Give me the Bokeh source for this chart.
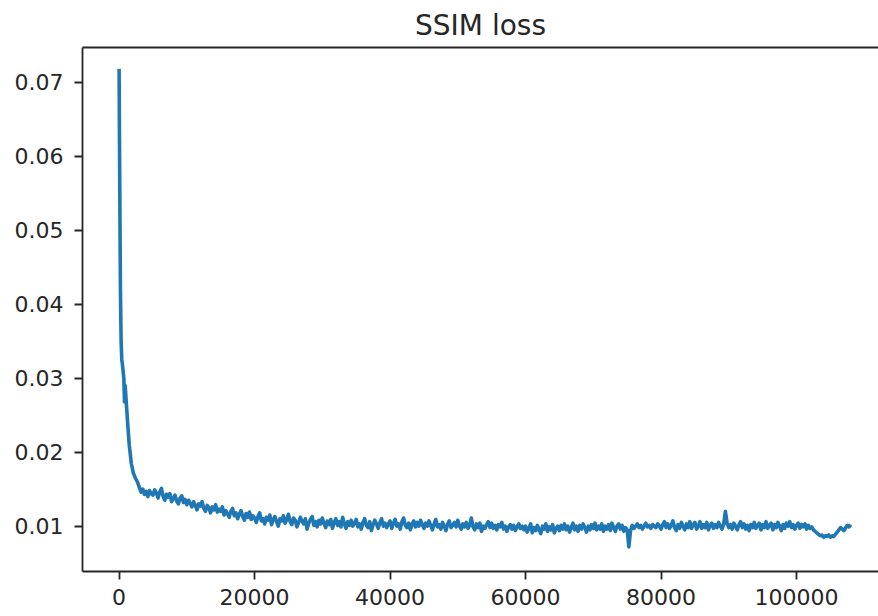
from bokeh.plotting import figure
from bokeh.models import Range1d, LinearAxis, FixedTicker, NumeralTickFormatter
from bokeh.embed import file_html
from bokeh.resources import INLINE

# Training steps and SSIM loss: sparse readings during the initial drop,
# then one reading every 250 steps
early_steps = [0, 100, 200, 300, 400, 500, 700, 800, 900, 1100, 1300, 1500,
               1800, 2100, 2400, 2700, 3000, 3250, 3500, 3750, 4000, 4250, 4500, 4750]
early_loss = [0.0718, 0.0560, 0.0420, 0.0350, 0.0325, 0.0318, 0.0300, 0.0268,
              0.0290, 0.0262, 0.0235, 0.0210, 0.0185, 0.0172, 0.0165, 0.0160,
              0.0152, 0.0146, 0.0150, 0.0143, 0.0147, 0.0140, 0.0148, 0.0144]

late_steps = list(range(5000, 108001, 250))
late_loss = [
    # 5000 - 9750
    0.0142, 0.0149, 0.0145, 0.0138, 0.0146, 0.0151, 0.0140, 0.0135, 0.0143, 0.0139,
    0.0144, 0.0133, 0.0137, 0.0142, 0.0134, 0.0130, 0.0138, 0.0141, 0.0132, 0.0136,
    # 10000 - 14750
    0.0129, 0.0135, 0.0131, 0.0126, 0.0133, 0.0128, 0.0122, 0.0130, 0.0127, 0.0133,
    0.0124, 0.0120, 0.0128, 0.0125, 0.0118, 0.0126, 0.0122, 0.0129, 0.0119, 0.0123,
    # 15000 - 19750
    0.0120, 0.0126, 0.0115, 0.0121, 0.0117, 0.0112, 0.0120, 0.0124, 0.0114, 0.0118,
    0.0110, 0.0116, 0.0121, 0.0113, 0.0108, 0.0117, 0.0112, 0.0119, 0.0109, 0.0114,
    # 20000 - 24750
    0.0111, 0.0105, 0.0113, 0.0118, 0.0107, 0.0110, 0.0103, 0.0112, 0.0108, 0.0115,
    0.0102, 0.0109, 0.0113, 0.0106, 0.0100, 0.0110, 0.0107, 0.0114, 0.0104, 0.0109,
    # 25000 - 29750
    0.0116, 0.0106, 0.0102, 0.0111, 0.0108, 0.0099, 0.0105, 0.0112, 0.0107, 0.0103,
    0.0110, 0.0096, 0.0104, 0.0109, 0.0113, 0.0101, 0.0106, 0.0099, 0.0108, 0.0103,
    # 30000 - 34750
    0.0111, 0.0104, 0.0098, 0.0107, 0.0102, 0.0109, 0.0097, 0.0105, 0.0110, 0.0101,
    0.0106, 0.0099, 0.0112, 0.0103, 0.0097, 0.0106, 0.0101, 0.0108, 0.0100, 0.0104,
    # 35000 - 39750
    0.0109, 0.0099, 0.0103, 0.0096, 0.0105, 0.0110, 0.0101, 0.0098, 0.0106, 0.0094,
    0.0102, 0.0108, 0.0103, 0.0097, 0.0105, 0.0110, 0.0100, 0.0104, 0.0098, 0.0103,
    # 40000 - 44750
    0.0107, 0.0097, 0.0104, 0.0109, 0.0100, 0.0103, 0.0096, 0.0106, 0.0111, 0.0101,
    0.0098, 0.0104, 0.0095, 0.0103, 0.0107, 0.0099, 0.0105, 0.0100, 0.0108, 0.0102,
    # 45000 - 49750
    0.0097, 0.0104, 0.0100, 0.0107, 0.0101, 0.0095, 0.0103, 0.0109, 0.0099, 0.0102,
    0.0096, 0.0105, 0.0100, 0.0094, 0.0103, 0.0107, 0.0098, 0.0101, 0.0105, 0.0099,
    # 50000 - 54750
    0.0108, 0.0100, 0.0096, 0.0103, 0.0099, 0.0105, 0.0097, 0.0101, 0.0111, 0.0099,
    0.0095, 0.0103, 0.0098, 0.0104, 0.0093, 0.0100, 0.0097, 0.0102, 0.0106, 0.0098,
    # 55000 - 59750
    0.0104, 0.0097, 0.0101, 0.0095, 0.0102, 0.0099, 0.0105, 0.0096, 0.0100, 0.0093,
    0.0099, 0.0102, 0.0096, 0.0101, 0.0094, 0.0099, 0.0103, 0.0097, 0.0100, 0.0095,
    # 60000 - 64750
    0.0100, 0.0092, 0.0097, 0.0103, 0.0091, 0.0098, 0.0094, 0.0101, 0.0095, 0.0090,
    0.0100, 0.0096, 0.0103, 0.0093, 0.0099, 0.0095, 0.0102, 0.0091, 0.0097, 0.0100,
    # 65000 - 69750
    0.0094, 0.0101, 0.0096, 0.0103, 0.0095, 0.0100, 0.0092, 0.0098, 0.0104, 0.0095,
    0.0100, 0.0093, 0.0101, 0.0096, 0.0103, 0.0098, 0.0092, 0.0100, 0.0095, 0.0102,
    # 70000 - 74750
    0.0097, 0.0104, 0.0095, 0.0100, 0.0096, 0.0103, 0.0093, 0.0100, 0.0096, 0.0102,
    0.0094, 0.0104, 0.0098, 0.0093, 0.0100, 0.0103, 0.0096, 0.0101, 0.0093, 0.0098,
    # 75000 - 79750
    0.0095, 0.0072, 0.0094, 0.0101, 0.0097, 0.0100, 0.0103, 0.0098, 0.0101, 0.0096,
    0.0100, 0.0104, 0.0099, 0.0101, 0.0097, 0.0102, 0.0100, 0.0098, 0.0103, 0.0100,
    # 80000 - 84750
    0.0096, 0.0102, 0.0106, 0.0098, 0.0103, 0.0097, 0.0101, 0.0107, 0.0098, 0.0094,
    0.0102, 0.0097, 0.0105, 0.0100, 0.0095, 0.0103, 0.0098, 0.0106, 0.0097, 0.0102,
    # 85000 - 89750
    0.0105, 0.0096, 0.0100, 0.0106, 0.0097, 0.0102, 0.0098, 0.0105, 0.0095, 0.0101,
    0.0104, 0.0097, 0.0102, 0.0098, 0.0105, 0.0100, 0.0096, 0.0103, 0.0120, 0.0104,
    # 90000 - 94750
    0.0098, 0.0102, 0.0096, 0.0104, 0.0100, 0.0095, 0.0102, 0.0106, 0.0098, 0.0103,
    0.0096, 0.0101, 0.0094, 0.0102, 0.0098, 0.0105, 0.0097, 0.0101, 0.0104, 0.0095,
    # 95000 - 99750
    0.0102, 0.0098, 0.0106, 0.0097, 0.0101, 0.0104, 0.0095, 0.0102, 0.0098, 0.0105,
    0.0100, 0.0094, 0.0102, 0.0097, 0.0104, 0.0100, 0.0106, 0.0098, 0.0102, 0.0096,
    # 100000 - 104750
    0.0101, 0.0104, 0.0097, 0.0102, 0.0099, 0.0103, 0.0096, 0.0101, 0.0097, 0.0099,
    0.0095, 0.0093, 0.0091, 0.0089, 0.0087, 0.0088, 0.0085, 0.0087, 0.0086, 0.0088,
    # 105000 - 108000
    0.0085, 0.0087, 0.0086, 0.0089, 0.0092, 0.0095, 0.0098, 0.0096, 0.0094, 0.0098,
    0.0101, 0.0099, 0.0102,
]
assert len(late_steps) == len(late_loss)

steps = early_steps + late_steps
loss = early_loss + late_loss

x_ticks = [0, 20000, 40000, 60000, 80000, 100000]
y_ticks = [0.01, 0.02, 0.03, 0.04, 0.05, 0.06, 0.07]

FONT = "DejaVu Sans"
INK = "#262626"

p = figure(
    width=878, height=616,
    output_backend="svg", toolbar_location=None,
    x_range=Range1d(-5400, 112100),
    y_range=Range1d(0.00387, 0.07469),
    min_border_left=82, min_border_right=0,
    min_border_top=47, min_border_bottom=45,
    background_fill_color="white", border_fill_color="white",
)

p.title.text = "SSIM loss"
p.title.align = "center"
p.title.offset = 4
p.title.text_font = FONT
p.title.text_font_size = "28px"
p.title.text_font_style = "normal"
p.title.text_color = INK
p.title.standoff = 12

p.xgrid.visible = False
p.ygrid.visible = False
p.outline_line_color = None

for ax in (p.xaxis[0], p.yaxis[0]):
    ax.axis_line_color = INK
    ax.axis_line_width = 1.8
    ax.major_tick_line_color = INK
    ax.major_tick_line_width = 1.8
    ax.major_tick_out = 8
    ax.major_tick_in = 0
    ax.minor_tick_line_color = None
    ax.major_label_text_font = FONT
    ax.major_label_text_font_size = "22px"
    ax.major_label_text_color = INK

p.xaxis[0].ticker = FixedTicker(ticks=x_ticks)
p.xaxis[0].formatter = NumeralTickFormatter(format="0")
p.xaxis[0].major_label_standoff = 9
p.yaxis[0].ticker = FixedTicker(ticks=y_ticks)
p.yaxis[0].formatter = NumeralTickFormatter(format="0.00")
p.yaxis[0].major_label_standoff = 11

# top spine drawn as a bare axis
top = LinearAxis(axis_line_color=INK, axis_line_width=1.8,
                 major_tick_line_color=None, minor_tick_line_color=None,
                 major_label_text_font_size="0px", major_label_standoff=0,
                 ticker=FixedTicker(ticks=[]))
p.add_layout(top, "above")

p.line(steps, loss, line_color="#1f77b4", line_width=3.6, line_join="round")

open("out.html", "w").write(file_html(p, INLINE))
